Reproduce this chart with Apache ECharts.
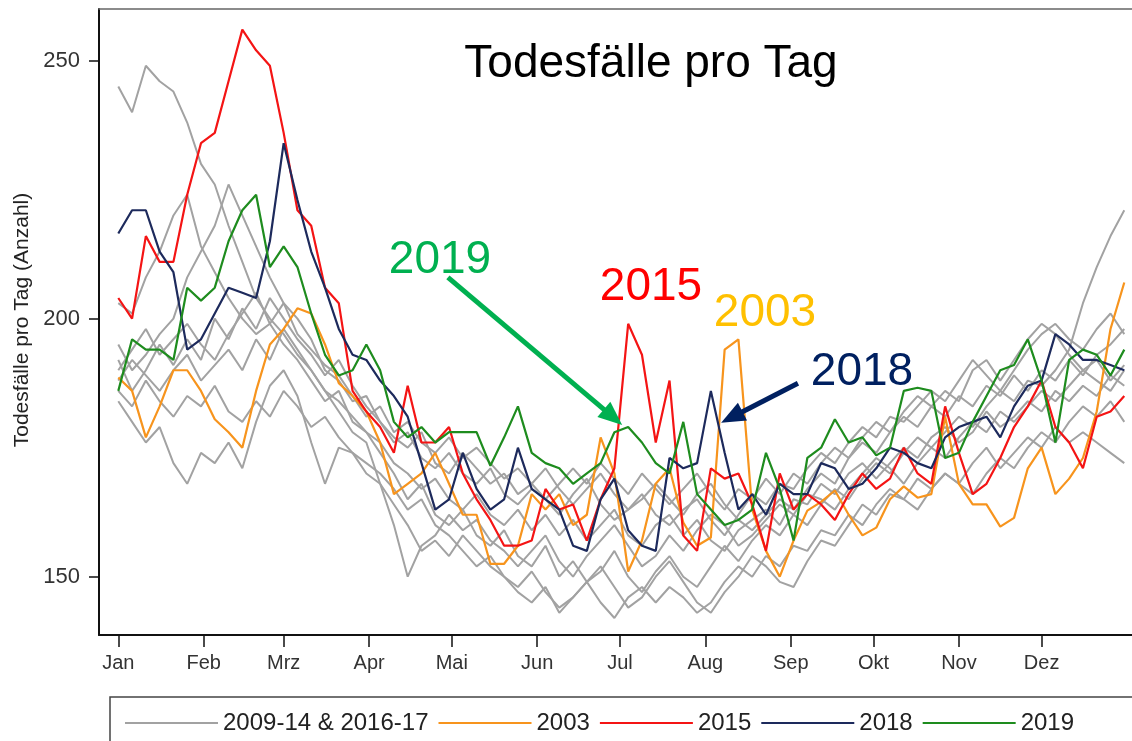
<!DOCTYPE html>
<html>
<head>
<meta charset="utf-8">
<title>Todesfälle pro Tag</title>
<script src="https://cdn.jsdelivr.net/npm/echarts@6/dist/echarts.min.js"></script>
<style>
    html, body { margin: 0; padding: 0; background: #ffffff; }
    #chartbox { width: 1132px; height: 741px; }
</style>
</head>
<body>
<div id="chartbox"></div>
<script>
var days = [0, 5, 10, 15, 20, 25, 30, 35, 40, 45,
    50, 55, 60, 65, 70, 75, 80, 85, 90, 95,
    100, 105, 110, 115, 120, 125, 130, 135, 140, 145,
    150, 155, 160, 165, 170, 175, 180, 185, 190, 195,
    200, 205, 210, 215, 220, 225, 230, 235, 240, 245,
    250, 255, 260, 265, 270, 275, 280, 285, 290, 295,
    300, 305, 310, 315, 320, 325, 330, 335, 340, 345,
    350, 355, 360, 365];

// Monatsanfang (Schaltjahr-Kalender) und Beschriftung
var monthDays = [0, 31, 60, 91, 121, 152, 182, 213, 244, 274, 305, 335];
var monthLabels = ["Jan", "Feb", "Mrz", "Apr", "Mai", "Jun", "Jul", "Aug", "Sep", "Okt", "Nov", "Dez"];
var yTicks = [150, 200, 250];

var v2003 = [188.6, 186, 177, 183, 190, 190, 186, 180.5, 178, 175,
    186, 195, 198, 202, 201, 195, 187.5, 185, 182, 176,
    166, 168, 170, 174, 168, 162, 162, 152.5, 152.5, 156,
    166, 163, 166, 160, 162, 177, 170, 151, 157, 168,
    171, 160.5, 156, 157.6, 194, 196, 163, 155, 150, 157,
    162.8, 164.5, 166.7, 162, 158, 159.5, 165, 167.5, 165.3, 166,
    181, 168, 164, 164, 159.7, 161.4, 171, 175, 166, 169,
    173, 182, 198, 207];

var v2015 = [204, 200, 216, 211, 211, 224, 234, 236, 246, 256,
    252, 249, 236, 221, 218, 206, 203, 186, 182, 179,
    174, 187, 176, 176, 179, 170, 165, 161, 156, 156,
    157, 167, 163, 164, 157, 165, 171, 199, 193, 176,
    188, 158, 155, 171, 169, 170, 164, 155, 170, 163,
    166, 164, 161, 166, 170, 167, 169, 175, 170, 168,
    183, 174, 166, 168, 173, 179, 183, 188, 179, 176,
    171, 181, 182, 185];

var v2018 = [216.5, 221, 221, 213, 209, 194, 196, 201, 206, 205,
    204, 215, 234, 223, 213, 206, 198, 193, 192, 188,
    185, 181, 172, 163, 165, 174, 167, 163, 165, 175,
    167, 165, 163, 156, 155, 165, 169, 159, 156, 155,
    173, 171, 172, 186, 174, 163, 166, 162, 168, 166,
    166, 172, 171, 167, 168, 171, 175, 174, 172, 171,
    177, 179, 180, 181, 177, 183, 187, 188, 197, 195,
    192, 192, 191, 190];

var v2019 = [186, 196, 194, 194, 192, 206, 203.5, 206, 215, 221,
    224, 210, 214, 210, 201, 193, 189, 190, 195, 190,
    180, 177, 179, 176, 178, 178, 178, 171.5, 177, 183,
    174, 172, 171, 168, 170, 172, 178, 179, 176, 172,
    170, 180, 166, 163, 160, 161, 163, 174, 167, 157,
    173, 175, 180.5, 176, 177, 173.5, 175, 186, 186.6, 186,
    173, 174, 180, 185, 190, 191, 196, 188, 176, 192,
    194, 193, 189, 194];

// graue Jahre 2009-14 & 2016-17
var grey1 = [245, 240, 249, 246, 244, 238, 230, 226, 218, 211,
    204, 200, 197, 193, 190, 186, 184, 181, 178, 176,
    172, 170, 167, 169, 165, 163, 166, 162, 160, 163,
    159, 162, 158, 161, 157, 160, 163, 158, 156, 160,
    162, 158, 161, 157, 155, 159, 161, 163, 160, 165,
    164, 168, 166, 170, 172, 169, 172, 175, 173, 177,
    179, 176, 178, 182, 179, 181, 184, 182, 186, 184,
    187, 185, 189, 187];
var grey2 = [203, 201, 208, 213, 220, 224, 214, 209, 204, 200,
    197, 199, 195, 192, 188, 184, 186, 180, 178, 174,
    170, 165, 168, 162, 160, 163, 158, 156, 159, 154,
    152, 156, 150, 153, 149, 151, 155, 150, 147, 151,
    154, 150, 148, 152, 156, 153, 157, 160, 158, 162,
    160, 164, 167, 165, 169, 172, 170, 174, 177, 175,
    178, 181, 179, 183, 186, 184, 188, 187, 190, 194,
    203, 210, 216, 221];
var grey3 = [195, 190, 193, 197, 200, 208, 213, 218, 226, 220,
    214, 208, 203, 200, 196, 190, 188, 184, 185, 180,
    176, 178, 173, 171, 174, 170, 168, 171, 166, 164,
    167, 165, 162, 166, 169, 164, 161, 163, 166, 162,
    160, 163, 165, 161, 158, 162, 166, 164, 168, 167,
    171, 174, 172, 176, 179, 177, 181, 180, 183, 186,
    184, 188, 192, 189, 186, 190, 194, 197, 199, 196,
    194, 198, 201, 197];
var grey4 = [184, 180, 176, 179, 172, 168, 174, 172, 176, 171,
    180, 187, 190, 185, 176, 168, 175, 174, 170, 168,
    164, 160, 155, 157, 154, 158, 155, 152, 150, 148,
    151, 147, 144, 146, 149, 152, 148, 144, 146, 150,
    153, 149, 145, 143, 147, 150, 154, 152, 149, 148,
    153, 157, 156, 160, 164, 162, 166, 165, 169, 167,
    170, 168, 172, 175, 171, 174, 177, 175, 179, 176,
    178, 176, 174, 172];
var grey5 = [188, 192, 189, 186, 190, 193, 188, 191, 194, 190,
    196, 192, 198, 194, 190, 186, 182, 178, 176, 168,
    160, 150, 156, 158, 162, 159, 161, 157, 155, 152,
    155, 158, 153, 150, 154, 157, 160, 156, 152, 154,
    158, 155, 159, 162, 160, 156, 158, 161, 164, 162,
    166, 165, 163, 167, 170, 173, 171, 168, 172, 175,
    173, 177, 180, 178, 182, 180, 183, 186, 184, 187,
    190, 188, 186, 190];
var grey6 = [192, 186, 190, 195, 191, 196, 192, 200, 196, 202,
    198, 204, 200, 196, 193, 189, 192, 187, 183, 180,
    177, 175, 178, 172, 170, 174, 171, 168, 170, 166,
    168, 171, 167, 164, 167, 170, 166, 163, 165, 168,
    165, 162, 166, 168, 164, 161, 159, 162, 165, 163,
    167, 170, 168, 173, 176, 174, 178, 181, 179, 183,
    181, 185, 183, 187, 185, 189, 186, 190, 188, 192,
    189, 193, 195, 198];
var grey7 = [186, 183, 188, 184, 181, 185, 183, 187, 182, 180,
    184, 181, 186, 183, 179, 181, 177, 174, 172, 170,
    167, 163, 165, 160, 158, 155, 152, 154, 150, 147,
    145, 148, 143, 146, 149, 145, 142, 146, 148, 145,
    148, 146, 143, 145, 149, 152, 150, 154, 152, 156,
    155, 159, 158, 162, 160, 164, 167, 165, 163, 167,
    170, 168, 166, 170, 173, 171, 175, 178, 176, 180,
    183, 181, 184, 180];
var grey8 = [190, 194, 198, 193, 196, 199, 195, 192, 197, 201,
    205, 199, 203, 197, 194, 191, 189, 185, 181, 183,
    178, 180, 176, 174, 177, 173, 175, 172, 169, 171,
    168, 165, 168, 171, 168, 172, 169, 166, 170, 167,
    164, 167, 170, 166, 163, 167, 165, 169, 166, 170,
    168, 172, 175, 173, 177, 180, 178, 182, 185, 183,
    186, 184, 190, 192, 188, 192, 196, 199, 197, 193,
    190, 192, 188, 191];
var greyYears = [grey1, grey2, grey3, grey4, grey5, grey6, grey7, grey8];

var fontName = "Liberation Sans, Arial, sans-serif";

var toPoints = function (vals) {
    return days.map(function (d, i) { return [d, vals[i]]; });
};

var lineSeries = function (name, vals, color, width, extra) {
    var s = {
        name: name,
        type: "line",
        symbol: "none",
        silent: true,
        animation: false,
        lineStyle: { color: color, width: width },
        itemStyle: { color: color },
        data: toPoints(vals)
    };
    if (extra) {
        for (var k in extra) { s[k] = extra[k]; }
    }
    return s;
};

var arrow = function (from, to, color) {
    return {
        silent: true,
        symbol: ["none", "triangle"],
        symbolSize: [20, 24],
        label: { show: false },
        lineStyle: { color: color, width: 5, type: "solid" },
        emphasis: { disabled: true },
        data: [[{ coord: from }, { coord: to }]]
    };
};

var series = [];
greyYears.forEach(function (g) {
    series.push(lineSeries("2009-14 & 2016-17", g, "#a2a2a2", 2));
});
series.push(lineSeries("2003", v2003, "#f7941d", 2.2));
series.push(lineSeries("2015", v2015, "#f41414", 2.2));
series.push(lineSeries("2018", v2018, "#1d2a5c", 2.2, {
    markLine: arrow([246.6, 187.5], [222.6, 180.9], "#002060")
}));
series.push(lineSeries("2019", v2019, "#1e8c1e", 2.2, {
    markLine: arrow([119.6, 208], [179.5, 180.9], "#00b050")
}));

var myChart = echarts.init(document.getElementById("chartbox"));
var option = {
    animation: false,
    textStyle: { fontFamily: fontName },
    grid: {
        left: 99,
        right: 0,
        top: 9,
        bottom: 106,
        outerBoundsMode: "none"
    },
    legend: {
        left: 120,
        top: 706,
        icon: "rect",
        itemWidth: 93,
        itemHeight: 2,
        itemGap: 10,
        selectedMode: false,
        textStyle: { fontSize: 24, color: "#222222", fontFamily: fontName },
        data: ["2009-14 & 2016-17", "2003", "2015", "2018", "2019"]
    },
    xAxis: [
        {
            type: "value",
            min: -7,
            max: 367.8,
            axisLine: { show: true, onZero: false, lineStyle: { color: "#111111", width: 2 } },
            axisTick: {
                show: true,
                length: 12,
                customValues: monthDays,
                lineStyle: { color: "#111111", width: 1.5 }
            },
            axisLabel: {
                customValues: monthDays,
                margin: 18,
                fontSize: 20,
                color: "#333333",
                formatter: function (v) {
                    var i = monthDays.indexOf(v);
                    return i >= 0 ? monthLabels[i] : "";
                }
            },
            splitLine: { show: false }
        },
        {
            type: "value",
            position: "top",
            min: -7,
            max: 367.8,
            axisLine: { show: true, onZero: false, lineStyle: { color: "#666666", width: 1.5 } },
            axisTick: { show: false },
            axisLabel: { show: false },
            splitLine: { show: false }
        }
    ],
    yAxis: {
        type: "value",
        min: 138.7,
        max: 260,
        axisLine: { show: true, onZero: false, lineStyle: { color: "#111111", width: 2 } },
        axisTick: {
            show: true,
            length: 10,
            customValues: yTicks,
            lineStyle: { color: "#111111", width: 1.5 }
        },
        axisLabel: {
            customValues: yTicks,
            margin: 19,
            fontSize: 22,
            color: "#333333"
        },
        splitLine: { show: false }
    },
    graphic: [
        {
            type: "text", x: 651, y: 64,
            style: { text: "Todesfälle pro Tag", font: "46px " + fontName, fill: "#000000", align: "center", verticalAlign: "middle" }
        },
        {
            type: "text", x: 22, y: 320, rotation: Math.PI / 2,
            style: { text: "Todesfälle pro Tag (Anzahl)", font: "21px " + fontName, fill: "#222222", align: "center", verticalAlign: "middle" }
        },
        {
            type: "text", x: 440, y: 260,
            style: { text: "2019", font: "46px " + fontName, fill: "#00b050", align: "center", verticalAlign: "middle" }
        },
        {
            type: "text", x: 651, y: 287,
            style: { text: "2015", font: "46px " + fontName, fill: "#ff0000", align: "center", verticalAlign: "middle" }
        },
        {
            type: "text", x: 765, y: 313,
            style: { text: "2003", font: "46px " + fontName, fill: "#ffc000", align: "center", verticalAlign: "middle" }
        },
        {
            type: "text", x: 862, y: 372,
            style: { text: "2018", font: "46px " + fontName, fill: "#002060", align: "center", verticalAlign: "middle" }
        },
        {
            type: "rect", shape: { x: 110, y: 697, width: 1100, height: 100 },
            style: { fill: "none", stroke: "#444444", lineWidth: 1.5 }
        }
    ],
    series: series
};
option && myChart.setOption(option);
window.addEventListener("resize", function () {
    myChart.resize();
});
</script>
</body>
</html>
